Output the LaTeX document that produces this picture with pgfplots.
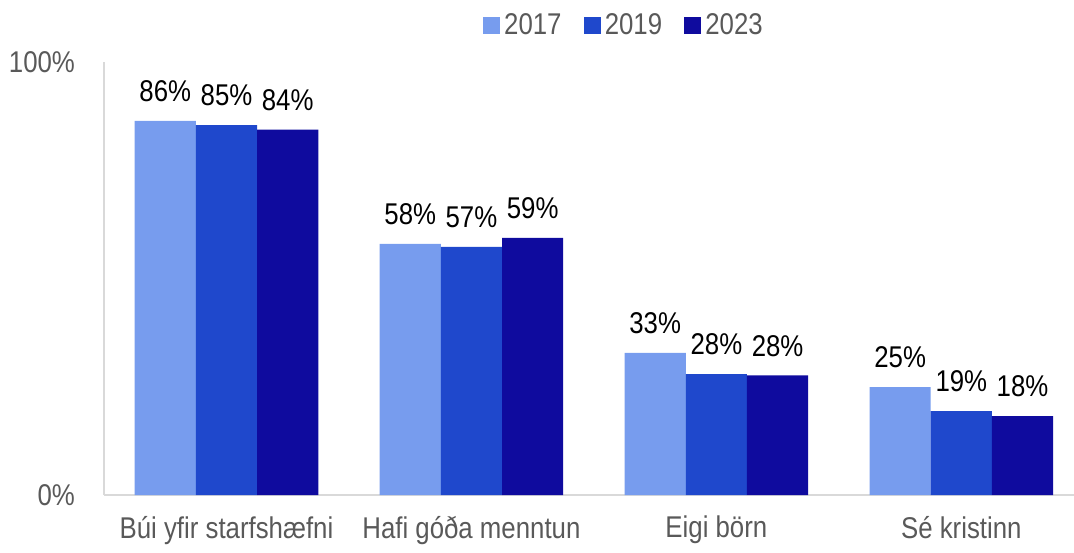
\documentclass[border=0pt]{standalone}
\usepackage{pgfplots}
\pgfplotsset{compat=1.18}
\usepackage{fontspec}
\setmainfont[FakeStretch=0.86]{Liberation Sans}
\definecolor{cA}{HTML}{779CEE}
\definecolor{cB}{HTML}{1F48CC}
\definecolor{cC}{HTML}{0F0B9E}
\definecolor{txt}{HTML}{595959}
\definecolor{axl}{HTML}{D9D9D9}
\begin{document}
\begin{tikzpicture}
\path[use as bounding box] (-52pt,-28.5pt) rectangle (485pt,247.5pt);
\begin{axis}[
  at={(0,0)}, anchor=south west,
  scale only axis, width=485pt, height=216.5pt,
  xmin=-0.5, xmax=3.46, ymin=0, ymax=100,
  ybar=0pt, bar width=30.6pt,
  axis x line*=bottom, axis y line*=left,
  axis line style={draw=axl, line width=1pt},
  x axis line style={-}, y axis line style={-},
  /pgf/number format/assume math mode=true,
  xtick={0,1,2,3},
  xticklabels={Búi yfir starfshæfni, Hafi góða menntun, Eigi börn, Sé kristinn},
  ytick={0,100}, yticklabels={0\%,100\%},
  major tick length=0pt,
  xticklabel style={font=\fontsize{15}{17}\selectfont, text=txt, yshift=-7pt},
  yticklabel style={font=\fontsize{15}{17}\selectfont, text=txt, xshift=-11pt},
  nodes near coords={\pgfmathprintnumber[fixed,precision=0,assume math mode=true]{\pgfplotspointmeta}\%},
  every node near coord/.append style={font=\fontsize{15}{17}\selectfont, text=black, yshift=6pt},
  legend style={at={(0.537,1.085)}, anchor=center, draw=none, fill=none,
    legend columns=3, font=\fontsize{15}{17}\selectfont, text=txt,
    /tikz/every even column/.append style={column sep=9pt}},
  legend image code/.code={\fill[#1] (0pt,-4.3pt) rectangle (8.6pt,4.3pt);},
  clip=false,
]
\addplot[fill=cA, draw=none] coordinates {(0,86.4) (1,58.0) (2,32.8) (3,24.9)};
\addplot[fill=cB, draw=none] coordinates {(0,85.4) (1,57.3) (2,27.9) (3,19.4)};
\addplot[fill=cC, draw=none] coordinates {(0,84.4) (1,59.4) (2,27.6) (3,18.2)};
\legend{2017,2019,2023}
\end{axis}
\end{tikzpicture}
\end{document}
